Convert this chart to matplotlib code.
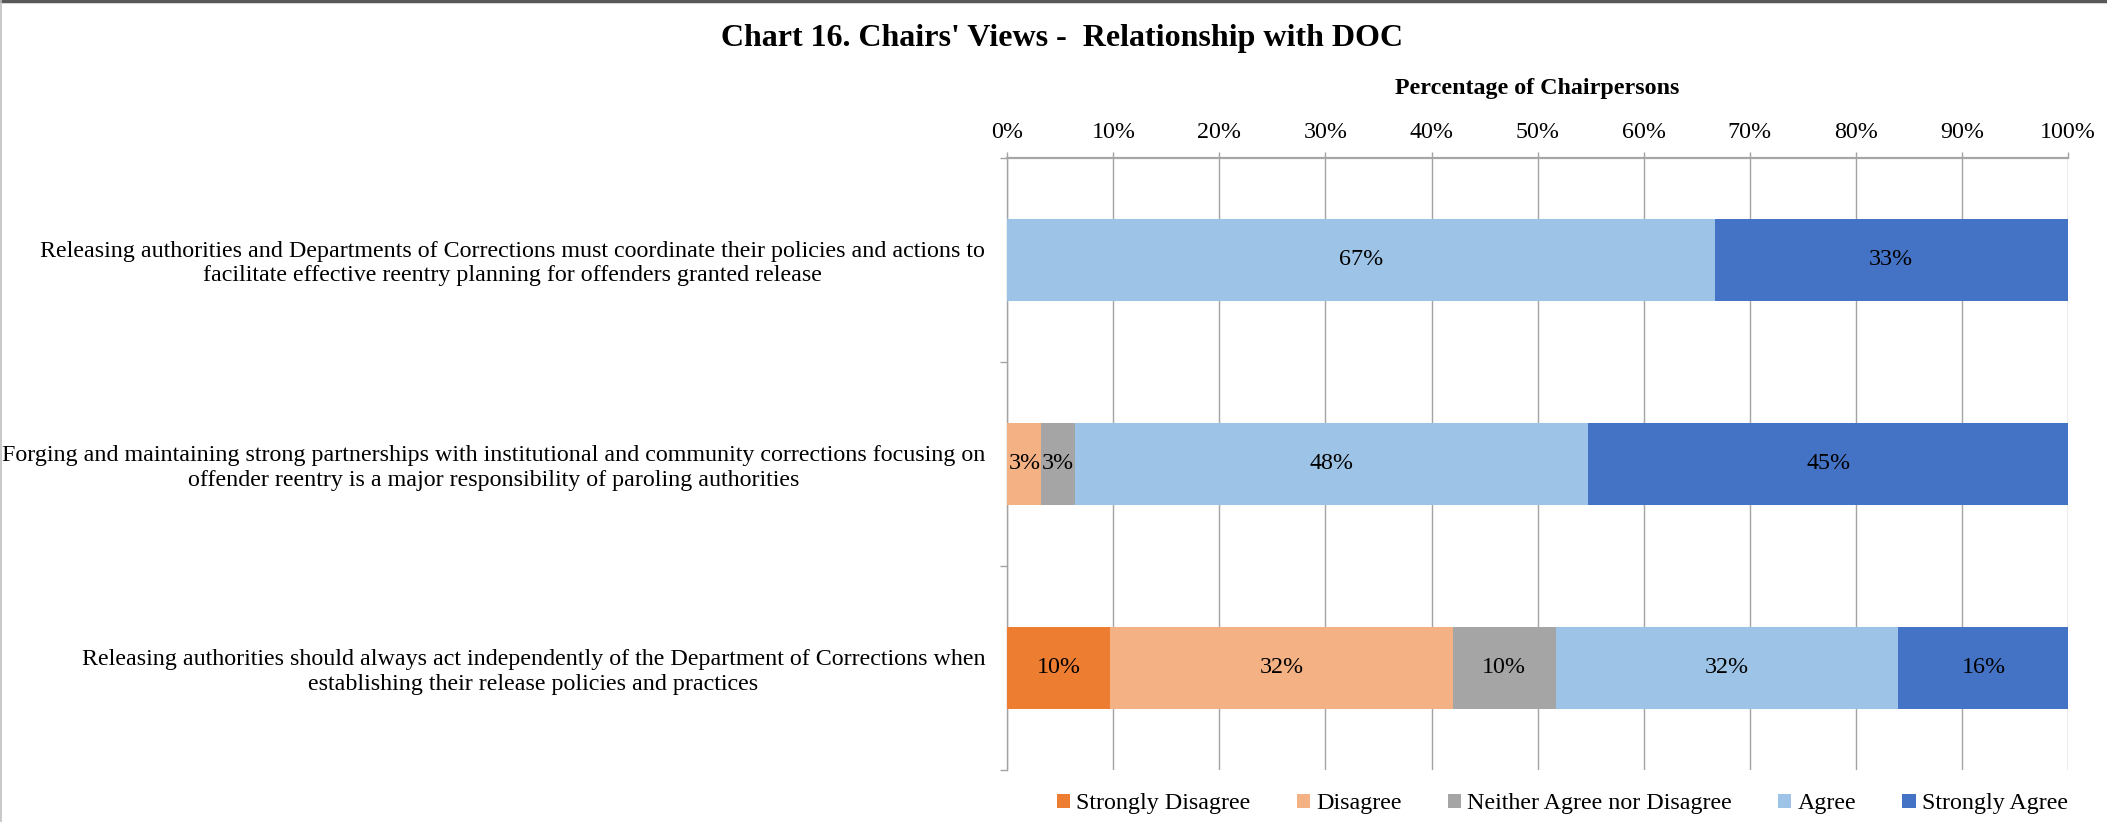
import matplotlib
matplotlib.use("Agg")
import matplotlib.pyplot as plt
from matplotlib.patches import Patch
from matplotlib.lines import Line2D
from matplotlib.ticker import FixedLocator, FuncFormatter

plt.rcParams['font.family'] = ['Liberation Serif', 'DejaVu Serif']

# Survey statements (top to bottom)
statements = [
    "Releasing authorities and Departments of Corrections must coordinate their policies and actions to\n"
    "facilitate effective reentry planning for offenders granted release",
    "Forging and maintaining strong partnerships with institutional and community corrections focusing on\n"
    "offender reentry is a major responsibility of paroling authorities",
    "Releasing authorities should always act independently of the Department of Corrections when\n"
    "establishing their release policies and practices",
]

# Response shares (% of chairpersons)
strongly_disagree = [0.0, 0.0, 9.7]
disagree = [0.0, 3.2, 32.3]
neutral = [0.0, 3.2, 9.7]
agree = [66.7, 48.4, 32.3]
strongly_agree = [33.3, 45.2, 16.1]

response_names = ["Strongly Disagree", "Disagree", "Neither Agree nor Disagree",
                  "Agree", "Strongly Agree"]
response_values = [strongly_disagree, disagree, neutral, agree, strongly_agree]
response_colors = ["#ED7D31", "#F4B183", "#A5A5A5", "#9DC3E6", "#4472C4"]

x_ticks = [0, 10, 20, 30, 40, 50, 60, 70, 80, 90, 100]

FS = 17.3
GRID = "#a3a3a3"

fig = plt.figure(figsize=(21.07, 8.22), dpi=100)
ax = fig.add_axes([0.4781, 0.0633, 0.5033, 0.7449])

ypos = list(range(len(statements)))
left = [0.0] * len(statements)
for name, vals, col in zip(response_names, response_values, response_colors):
    ax.barh(ypos, vals, left=left, height=0.40, color=col, zorder=3, label=name)
    for y, l, v in zip(ypos, left, vals):
        if v > 0:
            ax.text(l + v / 2, y, f"{round(v)}%", ha="center", va="center",
                    fontsize=FS, color="black", zorder=4)
    left = [a + b for a, b in zip(left, vals)]

ax.set_xlim(0, 100)
ax.set_ylim(len(statements) - 0.5, -0.5)

# x axis on top with percentage labels
ax.xaxis.tick_top()
ax.xaxis.set_label_position("top")
ax.set_xticks(x_ticks)
ax.xaxis.set_major_formatter(FuncFormatter(lambda v, p: f"{int(v)}%"))
ax.tick_params(axis="x", which="major", direction="out", length=4.5, width=1,
               color=GRID, labelsize=FS, pad=6)
ax.set_xlabel("Percentage of Chairpersons", fontsize=FS, fontweight="bold",
              labelpad=20)
ax.grid(axis="x", color=GRID, linewidth=1.0, zorder=0)
ax.set_axisbelow(True)

# category labels at centres, tick marks at category boundaries
ax.set_yticks(ypos)
ax.set_yticklabels(statements, fontsize=FS, multialignment="center")
ax.tick_params(axis="y", which="major", length=0, pad=16)
ax.yaxis.set_minor_locator(FixedLocator([-0.5, 0.5, 1.5, 2.5]))
ax.tick_params(axis="y", which="minor", direction="out", length=5, width=1,
               color=GRID)

for s in ("right", "bottom"):
    ax.spines[s].set_visible(False)
ax.spines["top"].set_color("#a6a6a6")
ax.spines["top"].set_linewidth(1.6)
ax.spines["left"].set_color(GRID)
ax.spines["left"].set_linewidth(1.0)

fig.text(0.504, 0.953, "Chart 16. Chairs' Views -  Relationship with DOC",
         ha="center", va="center", fontsize=23, fontweight="bold")

handles = [Patch(facecolor=c, edgecolor="none") for c in response_colors]
fig.legend(handles, response_names, loc="center", bbox_to_anchor=(0.7415, 0.022),
           ncol=5, frameon=False, fontsize=FS, handlelength=0.55,
           handleheight=0.55, handletextpad=0.25, columnspacing=1.93)

# chart border
fig.add_artist(Line2D([0, 1], [0.999, 0.999], transform=fig.transFigure,
                      color="#595959", linewidth=2.5))
fig.add_artist(Line2D([0.0003, 0.0003], [0, 1], transform=fig.transFigure,
                      color="#bfbfbf", linewidth=1.2))

fig.savefig("out.png", dpi=100)
